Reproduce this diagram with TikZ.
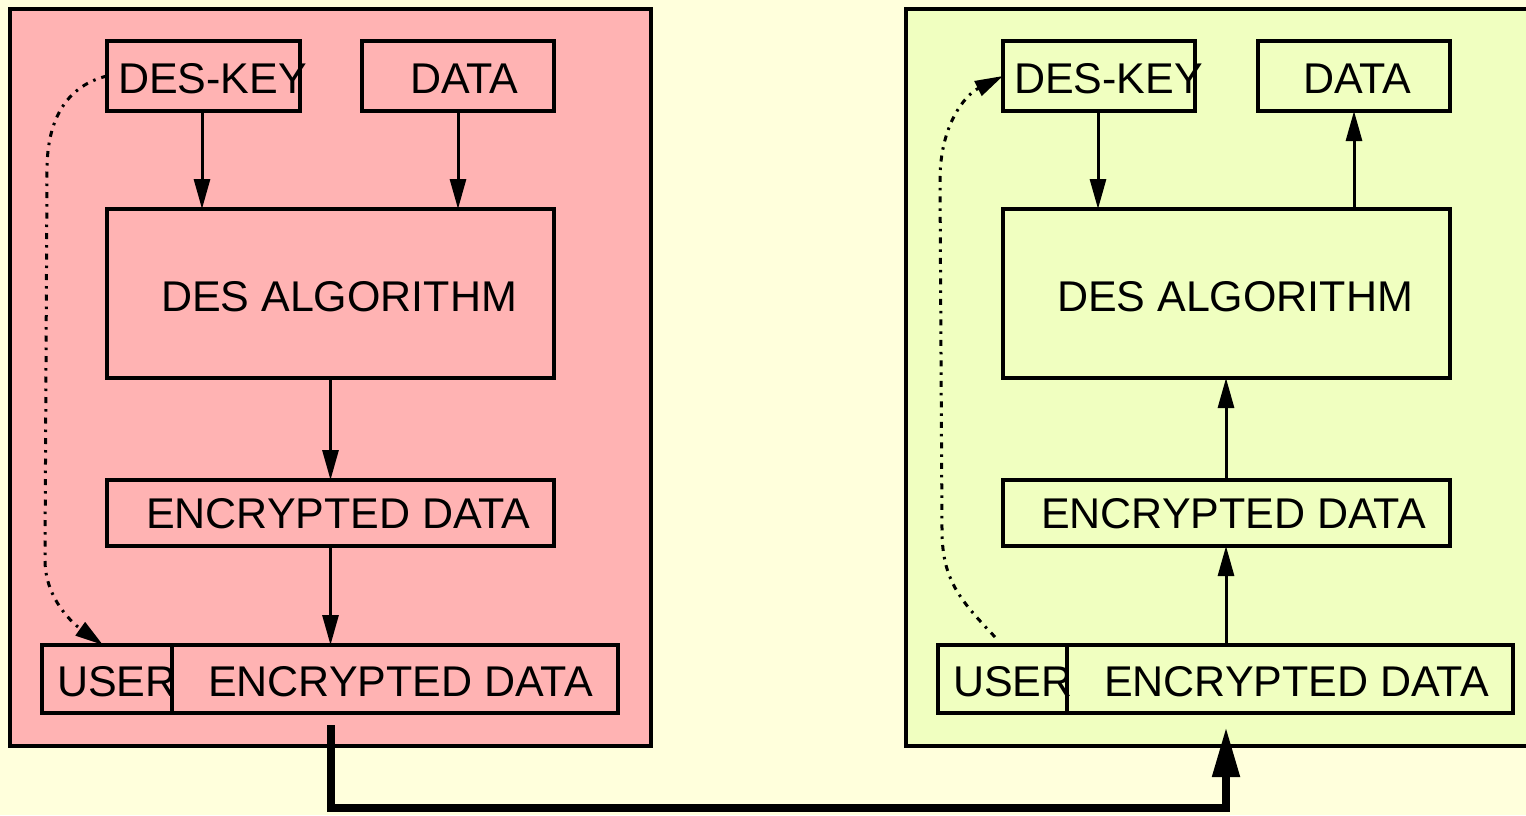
\documentclass[tikz,border=0pt]{standalone}
\usepackage{fontspec}
\setmainfont{Liberation Sans}
\usetikzlibrary{arrows.meta}
\definecolor{bgc}{RGB}{255,255,220}
\definecolor{pinkc}{RGB}{255,179,179}
\definecolor{limec}{RGB}{240,255,192}
\tikzset{
  box/.style={draw=black, line width=3.2pt, inner sep=0pt, outer sep=0pt},
  panel/.style={draw=black, line width=3.2pt},
  lbl/.style={anchor=base west, inner sep=0pt, outer sep=0pt, font=\fontsize{43}{50}\selectfont},
  arr/.style={line width=3pt, -{Triangle[length=30pt,width=16pt]}},
  bigarr/.style={line width=8pt, -{Triangle[length=50pt,width=26pt]}},
  dotarr/.style={line width=3pt, dash pattern=on 6pt off 6pt on 2.5pt off 6pt, -{Triangle[length=28pt,width=16pt]}},
}
\begin{document}
\begin{tikzpicture}[x=1pt,y=-1pt]
\fill[bgc] (0,0) rectangle (1526,815);
\useasboundingbox (0,0) rectangle (1526,815);
% panels
\node[panel, fill=pinkc, minimum width=641pt, minimum height=737pt, inner sep=0pt] (lpanel) at (330.5,377.5) {};
\node[panel, fill=limec, minimum width=640pt, minimum height=737pt, inner sep=0pt] (rpanel) at (1226,377.5) {};
% ---------- left side ----------
\node[box, minimum width=193pt, minimum height=70pt] (ldk) at (203.5,76) {};
\node[box, minimum width=192pt, minimum height=70pt] (ldata) at (458,76) {};
\node[box, minimum width=447pt, minimum height=169pt] (lalg) at (330.5,293.5) {};
\node[box, minimum width=447pt, minimum height=66pt] (lenc) at (330.5,513) {};
\node[box, minimum width=130pt, minimum height=68pt] (luser) at (107,679) {};
\node[box, minimum width=446pt, minimum height=68pt] (lenc2) at (395,679) {};
\node[lbl] (tldk) at (118,93) {DES-KEY};
\node[lbl] (tldata) at (410,93) {DATA};
\node[lbl] (tlalg) at (161,311) {DES ALGORITHM};
\node[lbl] (tlenc) at (146,528) {ENCRYPTED DATA};
\node[lbl] (tluser) at (57,696) {USER};
\node[lbl] (tlenc2) at (208,696) {ENCRYPTED DATA};
\draw[arr] (ldk.south -| 202,0) -- (lalg.north -| 202,0);
\draw[arr] (ldata.south -| 458,0) -- (lalg.north -| 458,0);
\draw[arr] (lalg.south) -- (lenc.north -| lalg.south);
\draw[arr] (lenc.south) -- (lenc2.north -| lenc.south);
\draw[dotarr] (ldk.west) .. controls (70,85) and (47,115) .. (47,170) -- (45,560)
  .. controls (45,600) and (75,625) .. ([xshift=-4pt]luser.north);
% ---------- right side ----------
\node[box, minimum width=192pt, minimum height=70pt] (rdk) at (1099,76) {};
\node[box, minimum width=192pt, minimum height=70pt] (rdata) at (1354,76) {};
\node[box, minimum width=447pt, minimum height=169pt] (ralg) at (1226.5,293.5) {};
\node[box, minimum width=447pt, minimum height=66pt] (renc) at (1226.5,513) {};
\node[box, minimum width=129pt, minimum height=68pt] (ruser) at (1002.5,679) {};
\node[box, minimum width=446pt, minimum height=68pt] (renc2) at (1290,679) {};
\node[lbl] (trdk) at (1014,93) {DES-KEY};
\node[lbl] (trdata) at (1303,93) {DATA};
\node[lbl] (tralg) at (1057,311) {DES ALGORITHM};
\node[lbl] (trenc) at (1041,528) {ENCRYPTED DATA};
\node[lbl] (truser) at (953,696) {USER};
\node[lbl] (trenc2) at (1104,696) {ENCRYPTED DATA};
\draw[arr] (rdk.south -| 1098,0) -- (ralg.north -| 1098,0);
\draw[arr] (ralg.north -| 1354,0) -- (rdata.south -| 1354,0);
\draw[arr] (renc.north -| 1226,0) -- (ralg.south -| 1226,0);
\draw[arr] (renc2.north -| 1226,0) -- (renc.south -| 1226,0);
\coordinate (rstart) at (995,637);
\draw[dotarr] (rstart) .. controls (960,600) and (942,580) .. (942,530) -- (940,180)
  .. controls (940,125) and (965,95) .. (rdk.west);
% ---------- transfer ----------
\coordinate (tstart) at (331,725);
\coordinate (tc1) at (331,808);
\coordinate (tc2) at (1226,808);
\coordinate (tend) at (1226,727);
\draw[bigarr] (tstart) -- (tc1) -- (tc2) -- (tend);
\end{tikzpicture}
\end{document}
